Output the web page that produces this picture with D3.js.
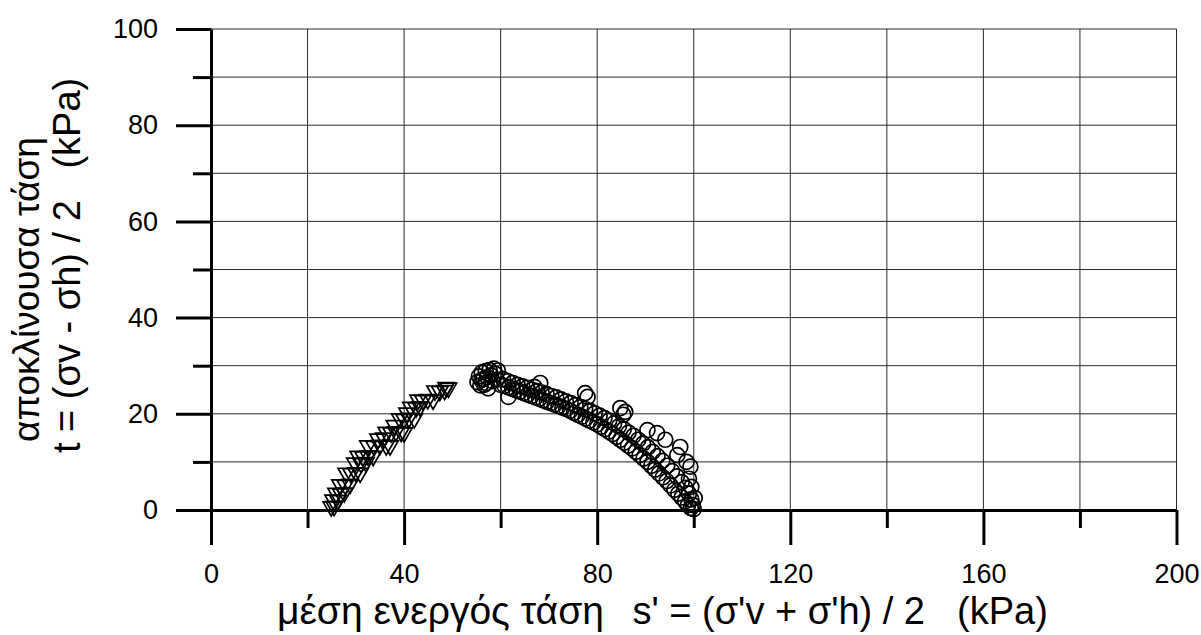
<!DOCTYPE html>
<html><head><meta charset="utf-8">
<script src="https://cdn.jsdelivr.net/npm/d3@7"></script>
<style>
body{margin:0;background:#fff}
svg{display:block}
text{font-family:"Liberation Sans",Arial,sans-serif;fill:#000}
</style>
</head><body>
<svg id="c" width="1201" height="635"></svg>
<script>
// ---- data (s' , t) in kPa ----
const xMajorTicks = [0, 40, 80, 120, 160, 200];
const xMinorTicks = [20, 60, 100, 140, 180];
const yMajorTicks = [0, 20, 40, 60, 80, 100];
const yMinorTicks = [10, 30, 50, 70, 90];

const triangles = [
  [24.9,0.7],[25.5,0.8],[25.3,2.1],[26.3,2.0],[25.9,3.5],[26.9,3.4],[27.6,3.6],
  [26.7,5.3],[27.8,5.2],[28.8,5.4],[28.0,7.7],[29.0,7.6],[30.0,7.8],[30.9,7.7],
  [29.8,9.8],[31.1,9.7],[32.1,9.9],[30.5,11.2],[31.5,11.1],[32.5,11.3],[33.6,11.2],
  [32.5,13.4],[33.8,13.3],[35.0,13.5],[36.3,13.4],[37.1,13.4],[34.6,14.8],[35.8,15.0],
  [36.3,16.2],[37.3,16.1],[38.3,16.3],[39.4,16.2],[40.0,16.1],[38.0,17.6],
  [39.1,19.0],[40.0,18.9],[41.0,19.1],[42.1,19.0],[40.6,20.2],
  [41.4,21.4],[42.5,21.3],[43.3,21.5],[42.9,22.9],[43.9,22.8],[44.9,23.0],[46.0,22.9],
  [46.4,24.8],[47.4,24.7],[48.4,24.9],[48.7,25.5],[49.2,25.4]
];

const circles = [
  // cluster near the peak
  [55.2,26.6],[55.5,27.8],[55.8,25.9],[56.1,28.6],[56.4,27.2],[56.6,26.0],[56.9,28.9],
  [57.2,27.6],[57.4,25.3],[57.7,29.1],[58.0,28.0],[58.3,26.8],[58.6,29.4],[58.9,28.3],
  [59.2,27.1],[59.4,29.0],[57.0,26.4],[56.0,27.0],
  // lower track
  [60.0,26.0],[60.8,25.8],[61.6,25.5],[62.4,25.2],[63.2,24.9],[64.0,24.6],[64.8,24.3],
  [65.6,24.0],[66.4,23.7],[67.2,23.4],[68.0,23.1],[68.8,22.8],[69.6,22.5],[70.4,22.2],
  [71.2,21.9],[72.0,21.6],[72.8,21.3],[73.6,21.0],[74.4,20.6],[75.2,20.2],[76.0,19.8],
  [76.8,19.4],[77.6,19.0],[78.4,18.6],[79.2,18.2],[80.0,17.8],[80.8,17.3],[81.6,16.8],
  [82.4,16.3],[83.2,15.8],[84.0,15.2],[84.8,14.6],[85.6,14.0],[86.4,13.4],[87.2,12.8],
  [88.0,12.1],[88.8,11.4],[89.6,10.7],[90.4,10.0],[91.2,9.2],[92.0,8.4],[92.8,7.6],
  [93.6,6.8],[94.4,6.0],[95.2,5.1],[96.0,4.2],[96.8,3.4],[97.5,2.6],[98.2,1.8],
  [98.8,1.0],[99.4,0.4],[100.0,0.2],
  // upper track
  [60.5,27.2],[61.5,26.8],[62.5,26.4],[63.5,26.0],[64.5,25.7],[65.5,25.4],[66.5,25.0],
  [67.5,24.7],[68.5,24.4],[69.5,24.1],[70.5,23.7],[71.5,23.4],[72.5,23.0],[73.5,22.6],
  [74.5,22.2],[75.5,21.8],[76.5,21.4],[77.5,21.0],[78.5,20.6],[79.5,20.1],[80.5,19.6],
  [81.5,19.1],[82.5,18.6],[83.5,18.0],[84.5,17.4],[85.5,16.8],[86.5,16.1],[87.5,15.4],
  [88.5,14.6],[89.5,13.8],[90.5,13.0],[91.5,12.1],[92.5,11.2],[93.5,10.2],[94.5,9.2],
  [95.5,8.1],[96.5,7.0],[97.5,5.8],[98.3,4.6],[99.0,3.4],[99.5,2.2],[99.8,1.0],
  // scattered points
  [61.6,23.5],[68.2,26.4],[67.0,25.6],[77.5,24.3],[78.0,23.5],[84.8,21.2],[85.4,19.8],
  [85.8,20.4],[90.4,16.6],[92.4,16.0],[94.1,14.6],[96.6,11.4],[97.2,13.1],[99.3,9.0],
  [98.5,10.0],[99.5,4.8],[100.2,2.5],[99.0,6.5]
];

const yTitle1 = "αποκλίνουσα τάση";
const yTitle2 = "t = (σv - σh) / 2   (kPa)";
const xTitleGreek = "μέση ενεργός τάση";
const xTitleFormula = "s' = (σ'v + σ'h) / 2";
const xTitleUnit = "(kPa)";

// ---- layout ----
const svg = d3.select("#c");
svg.append("rect").attr("width",1201).attr("height",635).attr("fill","#fff");

const x = d3.scaleLinear().domain([0,200]).range([211,1176.5]);
const y = d3.scaleLinear().domain([0,100]).range([510,29]);

// grid
const grid = svg.append("g").attr("stroke","#2a2a2a").attr("stroke-width",1);
grid.selectAll("line.v").data(xMajorTicks.concat(xMinorTicks).filter(d=>d>0))
  .join("line").attr("class","v")
  .attr("x1",d=>x(d)).attr("x2",d=>x(d)).attr("y1",y(0)).attr("y2",y(100));
grid.selectAll("line.h").data(yMajorTicks.concat(yMinorTicks).filter(d=>d>0))
  .join("line").attr("class","h")
  .attr("x1",x(0)).attr("x2",x(200)).attr("y1",d=>y(d)).attr("y2",d=>y(d));

// axes
function styleAxis(g){
  g.selectAll("path.domain").attr("stroke","#000").attr("stroke-width",3);
  g.selectAll(".tick line").attr("stroke","#000").attr("stroke-width",3);
  g.selectAll(".tick text").attr("font-size",27).attr("font-family","Liberation Sans, Arial, sans-serif").attr("fill","#000");
}
const gxMin = svg.append("g").attr("transform",`translate(0,${y(0)})`)
  .call(d3.axisBottom(x).tickValues(xMinorTicks).tickSize(18).tickSizeOuter(0).tickFormat(""));
styleAxis(gxMin);
const gx = svg.append("g").attr("transform",`translate(0,${y(0)})`)
  .call(d3.axisBottom(x).tickValues(xMajorTicks).tickSize(35).tickSizeOuter(0).tickPadding(19).tickFormat(d3.format("d")));
styleAxis(gx);

const gyMin = svg.append("g").attr("transform",`translate(${x(0)},0)`)
  .call(d3.axisLeft(y).tickValues(yMinorTicks).tickSize(18).tickSizeOuter(0).tickFormat(""));
styleAxis(gyMin);
const gy = svg.append("g").attr("transform",`translate(${x(0)},0)`)
  .call(d3.axisLeft(y).tickValues(yMajorTicks).tickSize(35).tickSizeOuter(0).tickPadding(18).tickFormat(d3.format("d")));
styleAxis(gy);

// markers
const tri = d3.symbol().type(d3.symbolTriangle).size(115);
svg.append("g").selectAll("path").data(triangles).join("path")
  .attr("d",tri)
  .attr("transform",d=>`translate(${x(d[0])},${y(d[1])}) rotate(180)`)
  .attr("fill","none").attr("stroke","#000").attr("stroke-width",1.7);

svg.append("g").selectAll("circle").data(circles).join("circle")
  .attr("cx",d=>x(d[0])).attr("cy",d=>y(d[1])).attr("r",7.5)
  .attr("fill","none").attr("stroke","#000").attr("stroke-width",1.7);

// titles
svg.append("text").attr("transform","translate(39,442) rotate(-90)")
  .attr("font-size",37).attr("text-anchor","start").text(yTitle1);
svg.append("text").attr("transform","translate(80,453) rotate(-90)")
  .attr("font-size",38).attr("text-anchor","start").style("white-space","pre").text(yTitle2);

svg.append("text").attr("x",277).attr("y",624).attr("font-size",39)
  .attr("font-family","Open Sans, Noto Sans, sans-serif").text(xTitleGreek);
svg.append("text").attr("x",925).attr("y",624).attr("font-size",38).attr("text-anchor","end")
  .style("white-space","pre").text(xTitleFormula);
svg.append("text").attr("x",957).attr("y",624).attr("font-size",38).text(xTitleUnit);
</script>
</body></html>
